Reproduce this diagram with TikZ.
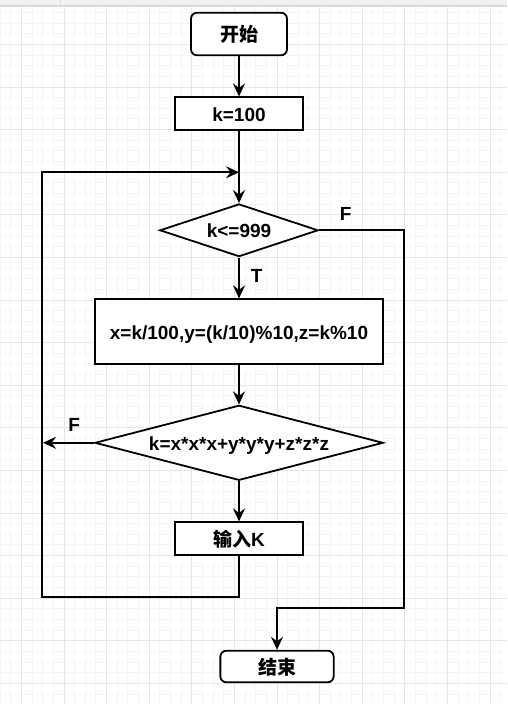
\documentclass[tikz,border=0pt]{standalone}
\usepackage{fontspec}
\setmainfont{Liberation Sans}
\newfontfamily\cjk{Noto Sans CJK SC}
\usetikzlibrary{shapes.geometric,arrows.meta}
\newcommand\flowfont{\bfseries\fontsize{19}{22}\selectfont}

\begin{document}
\begin{tikzpicture}[x=1pt,y=-1pt,
  box/.style={draw,line width=1.8pt,fill=white,inner sep=0pt,text height=15pt,text depth=0pt,font=\flowfont},
  term/.style={box,rounded corners=6pt},
  dec/.style={box,diamond,aspect=3},
  flow/.style={line width=1.8pt,-{Stealth[length=13pt,width=12pt,inset=4.5pt]}},
  lbl/.style={font=\flowfont,inner sep=0pt}]
\useasboundingbox (0,0) rectangle (507,704);
\fill[white] (0,0) rectangle (507,704);

%Raster
\draw[black!4,line width=0.8pt,step=10.65pt,xshift=21.3pt,yshift=-1.7pt] (-21.3,4.3) grid (485.7,702.3);
\draw[black!10,line width=0.8pt,step=42.6pt,xshift=21.3pt,yshift=-1.7pt] (-21.3,4.3) grid (485.7,702.3);
\fill[black!5] (0,0) rectangle (507,6);
\draw[black!15,line width=1.5pt] (0,6) -- (507,6);
\draw[black!15,line width=0.8pt] (60.3,0) -- (60.3,6);

\node[term,minimum width=96pt,minimum height=42.6pt] (start) at (239,34) {\cjk 开始};
\node[box,minimum width=128pt,minimum height=32.7pt] (init) at (239,113.7) {k=100};
\node[dec,minimum width=158.3pt,minimum height=52.7pt] (cond1) at (239,230.3) {k<=999};
\node[box,minimum width=287.7pt,minimum height=64.4pt] (calc) at (239,331.5) {x=k/100,y=(k/10)\%10,z=k\%10};
\node[dec,minimum width=288.3pt,minimum height=74.3pt] (cond2) at (239,442.8) {k=x*x*x+y*y*y+z*z*z};
\node[box,minimum width=128pt,minimum height=32.7pt] (input) at (239,538.7) {{\cjk 输入}K};
\node[term,minimum width=113.3pt,minimum height=31.6pt] (stop) at (277,666.5) {\cjk 结束};

\coordinate (merge) at (239,172.3);
\coordinate (lup) at (41.7,172.3);
\coordinate (ldown) at (41.7,596.7);
\coordinate (lhit) at (43,442.8);
\coordinate (rtop) at (404.3,230.3);
\coordinate (rbot) at (404.3,607.7);

\draw[flow] (start) -- (init);
\draw[flow] (init) -- (cond1);
\draw[flow] (cond1) -- (calc);
\draw[flow] (calc) -- (cond2);
\draw[flow] (cond2.south) -- (input.north);
\draw[flow] (cond2.west) -- (lhit);
\draw[flow] (input.south) |- (ldown) -- (lup) -- (merge);
\draw[flow] (cond1.east) -- (rtop) -- (rbot) -| (stop.north);

%Beschriftung
\node[lbl] (fTop) at (345.7,213.7) {F};
\node[lbl] (tMid) at (256.7,276.2) {T};
\node[lbl] (fLeft) at (74.3,425.3) {F};

\end{tikzpicture}
\end{document}
